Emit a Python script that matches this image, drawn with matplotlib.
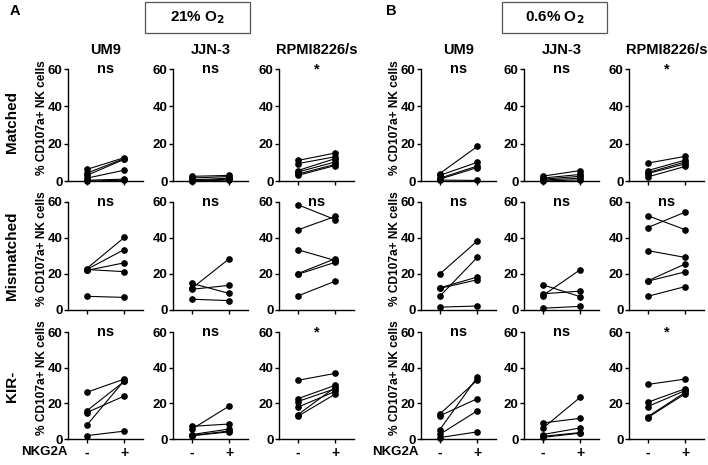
import matplotlib
matplotlib.use("Agg")
import matplotlib.pyplot as plt
from matplotlib.patches import Rectangle

plt.rcParams['font.family'] = ['Liberation Sans', 'DejaVu Sans']
plt.rcParams['font.weight'] = 'bold'

# ----- data: % CD107a+ NK cells, NKG2A- vs NKG2A+ (one line per donor) -----
cell_lines = ['UM9', 'JJN-3', 'RPMI8226/s']
groups = ['Matched', 'Mismatched', 'KIR-']
tick_labels = ['-', '+']
sig_labels = [['ns', 'ns', '*'],
              ['ns', 'ns', 'ns'],
              ['ns', 'ns', '*']]

# panel A, 21% O2
a_matched_um9_neg = [6.2, 4.2, 3.0, 1.5, 0.4, 0.0]
a_matched_um9_pos = [12.5, 12.0, 11.6, 5.8, 1.0, 0.4]
a_matched_jjn3_neg = [2.5, 1.6, 0.6, 0.2, 0.0]
a_matched_jjn3_pos = [3.0, 2.4, 1.5, 1.0, 0.5]
a_matched_rpmi_neg = [11.0, 9.3, 5.6, 4.8, 3.7, 3.0]
a_matched_rpmi_pos = [15.0, 13.0, 12.0, 10.2, 8.9, 8.3]

a_mism_um9_neg = [23.0, 22.5, 22.0, 22.5, 7.6]
a_mism_um9_pos = [40.3, 33.6, 26.2, 21.3, 7.0]
a_mism_jjn3_neg = [12.0, 14.8, 11.5, 6.0]
a_mism_jjn3_pos = [28.5, 9.2, 13.7, 5.2]
a_mism_rpmi_neg = [58.5, 44.5, 33.5, 20.2, 19.8, 7.8]
a_mism_rpmi_pos = [50.2, 52.0, 27.5, 28.5, 26.5, 16.0]

a_kir_um9_neg = [26.2, 15.8, 14.8, 7.7, 1.9]
a_kir_um9_pos = [33.6, 32.3, 24.1, 32.8, 4.4]
a_kir_jjn3_neg = [5.5, 7.1, 2.5, 2.0, 1.8]
a_kir_jjn3_pos = [18.5, 8.4, 5.6, 4.5, 4.0]
a_kir_rpmi_neg = [32.9, 22.6, 21.0, 17.8, 13.6, 12.7]
a_kir_rpmi_pos = [36.8, 30.1, 28.2, 26.7, 29.0, 25.2]

# panel B, 0.6% O2
b_matched_um9_neg = [4.0, 3.0, 1.5, 1.0, 0.5]
b_matched_um9_pos = [18.5, 10.0, 8.0, 7.2, 0.3]
b_matched_jjn3_neg = [2.6, 1.6, 1.0, 0.5, 0.0]
b_matched_jjn3_pos = [5.6, 3.5, 2.5, 1.5, 0.6]
b_matched_rpmi_neg = [9.6, 5.6, 4.5, 4.0, 2.2]
b_matched_rpmi_pos = [13.2, 11.2, 10.2, 9.2, 7.8]

b_mism_um9_neg = [20.0, 12.3, 12.0, 7.6, 1.6]
b_mism_um9_pos = [38.3, 18.3, 16.8, 29.2, 2.2]
b_mism_jjn3_neg = [14.0, 8.0, 9.0, 1.0]
b_mism_jjn3_pos = [7.4, 22.4, 10.5, 2.0]
b_mism_rpmi_neg = [52.4, 45.8, 33.0, 16.2, 16.0, 7.6]
b_mism_rpmi_pos = [44.6, 54.4, 29.2, 25.6, 21.2, 13.0]

b_kir_um9_neg = [14.0, 13.0, 5.2, 2.6, 0.8]
b_kir_um9_pos = [33.0, 22.6, 34.6, 15.8, 4.0]
b_kir_jjn3_neg = [6.0, 9.0, 2.5, 1.5, 0.9]
b_kir_jjn3_pos = [23.4, 11.6, 6.2, 3.6, 3.3]
b_kir_rpmi_neg = [30.6, 20.6, 18.2, 12.5, 12.0]
b_kir_rpmi_pos = [33.6, 28.2, 27.2, 26.2, 25.4]

panel_a = [[(a_matched_um9_neg, a_matched_um9_pos), (a_matched_jjn3_neg, a_matched_jjn3_pos), (a_matched_rpmi_neg, a_matched_rpmi_pos)],
           [(a_mism_um9_neg, a_mism_um9_pos), (a_mism_jjn3_neg, a_mism_jjn3_pos), (a_mism_rpmi_neg, a_mism_rpmi_pos)],
           [(a_kir_um9_neg, a_kir_um9_pos), (a_kir_jjn3_neg, a_kir_jjn3_pos), (a_kir_rpmi_neg, a_kir_rpmi_pos)]]
panel_b = [[(b_matched_um9_neg, b_matched_um9_pos), (b_matched_jjn3_neg, b_matched_jjn3_pos), (b_matched_rpmi_neg, b_matched_rpmi_pos)],
           [(b_mism_um9_neg, b_mism_um9_pos), (b_mism_jjn3_neg, b_mism_jjn3_pos), (b_mism_rpmi_neg, b_mism_rpmi_pos)],
           [(b_kir_um9_neg, b_kir_um9_pos), (b_kir_jjn3_neg, b_kir_jjn3_pos), (b_kir_rpmi_neg, b_kir_rpmi_pos)]]

# ----- layout (pixels of a 708x465 figure) -----
W, H = 708, 465
fig = plt.figure(figsize=(7.08, 4.65), dpi=100)

row_top = [69, 202, 332]
row_bot = [181, 310, 439]
col_left = {'A': [68, 173, 279], 'B': [421, 524, 629]}
ax_w = 75


def px_ax(x, ytop, ybot):
    return fig.add_axes([x / W, 1 - ybot / H, ax_w / W, (ybot - ytop) / H])


for panel, data in [('A', panel_a), ('B', panel_b)]:
    for r in range(3):
        for c in range(3):
            ax = px_ax(col_left[panel][c], row_top[r], row_bot[r])
            neg, pos = data[r][c]
            for n, p in zip(neg, pos):
                ax.plot([0, 1], [n, p], color='black', lw=0.8, marker='o',
                        markersize=3.8, clip_on=False)
            ax.set_xlim(-0.5, 1.5)
            ax.set_ylim(0, 60)
            ax.set_yticks([0, 20, 40, 60])
            ax.set_xticks([0, 1])
            for s in ['top', 'right']:
                ax.spines[s].set_visible(False)
            for s in ['left', 'bottom']:
                ax.spines[s].set_linewidth(1.0)
            ax.tick_params(axis='both', length=3, width=1.0, labelsize=9.5, pad=1)
            if r == 2:
                ax.set_xticklabels(tick_labels, fontsize=10, fontweight='bold')
                ax.tick_params(axis='x', pad=2)
            else:
                ax.set_xticklabels([])
            for lab in ax.get_yticklabels():
                lab.set_fontweight('bold')
            ax.text(0.5, 60, sig_labels[r][c], ha='center', va='center',
                    fontsize=10.5, fontweight='bold')
            if r == 0:
                ax.text(0.5, 1.17, cell_lines[c], transform=ax.transAxes,
                        ha='center', va='center', fontsize=10.5, fontweight='bold')
            if c == 0:
                ax.set_ylabel('% CD107a+ NK cells', fontsize=8.6, fontweight='bold')
                ax.yaxis.set_label_coords(-0.27, 0.57)

# row labels (panel A only)
row_mid = [122, 256, 386]
for r in range(3):
    fig.text(12 / W, 1 - row_mid[r] / H, groups[r], rotation=90, ha='center',
             va='center', fontsize=11, fontweight='bold')

# NKG2A labels
fig.text(68 / W, 1 - 452 / H, 'NKG2A', ha='right', va='center', fontsize=9.5, fontweight='bold')
fig.text(419 / W, 1 - 452 / H, 'NKG2A', ha='right', va='center', fontsize=9.5, fontweight='bold')

# panel letters
fig.text(10 / W, 1 - 11 / H, 'A', ha='left', va='center', fontsize=10.5, fontweight='bold')
fig.text(386 / W, 1 - 11 / H, 'B', ha='left', va='center', fontsize=10.5, fontweight='bold')

# oxygen boxes
for x0, x1, label in [(145, 250, '21% O$_\\mathbf{2}$'), (502, 607, '0.6% O$_\\mathbf{2}$')]:
    fig.add_artist(Rectangle((x0 / W, 1 - 33 / H), (x1 - x0) / W, 31 / H,
                             transform=fig.transFigure, fill=False,
                             edgecolor='#555555', lw=0.9))
    fig.text((x0 + x1) / 2 / W, 1 - 18 / H, label, ha='center', va='center',
             fontsize=11, fontweight='bold')

plt.savefig('out.png', dpi=100)
